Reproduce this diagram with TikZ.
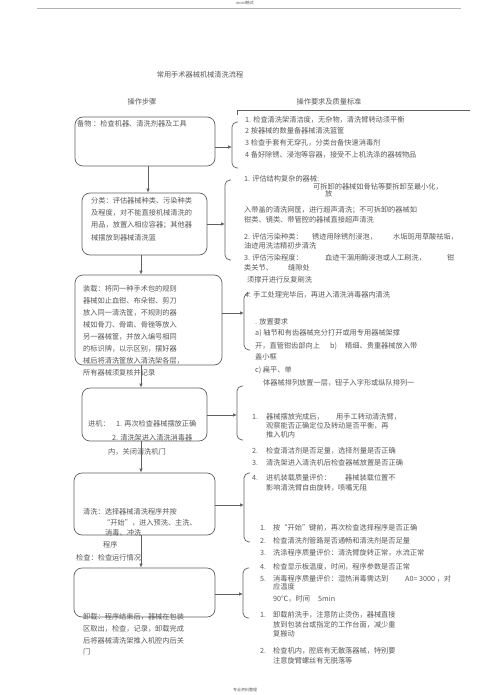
\documentclass[tikz,border=0pt]{standalone}
\usepackage{fontspec}
\setmainfont{Noto Sans CJK SC}
\usetikzlibrary{arrows.meta}
\definecolor{tx}{HTML}{585858}
\definecolor{ln}{HTML}{606060}
\newcounter{tn}
\newcommand\tl[3]{\stepcounter{tn}\node[txt] (t\thetn) at (#1,#2) {#3};}
\tikzset{
  txt/.style={anchor=west,inner sep=0pt,text=tx,font=\fontsize{7.2}{8}\selectfont},
  box/.style={draw=ln,line width=0.7pt,rounded corners=8pt,inner sep=0pt},
  arr/.style={draw=ln,line width=0.7pt,-{Latex[length=4pt,width=3.5pt]}},
  brk/.style={draw=ln,line width=0.7pt,rounded corners=5pt},
}
\begin{document}
\begin{tikzpicture}[x=1pt,y=-1pt]
\useasboundingbox (0,0) rectangle (491,695);
% header / footer
\node[inner sep=0pt,text=tx,font=\fontsize{4}{5}\selectfont] (hd) at (245,3) {word格式};
\coordinate (hl) at (37,8); \coordinate (hr) at (461,8);
\draw[gray!60,line width=0.6pt] (hl) -- (hr);
\node[inner sep=0pt,text=tx,font=\fontsize{4}{5}\selectfont] (ft) at (245,690) {专业资料整理};
% titles
\node[txt,anchor=center] (title) at (200,75) {常用手术器械机械清洗流程};
\node[txt,anchor=center] (h1) at (142,102) {操作步骤};
\node[txt,anchor=center] (h2) at (329,102) {操作要求及质量标准};
% left boxes
\node[box,minimum width=140pt,minimum height=49pt] (s1) at (145,141.5) {};
\node[box,minimum width=125pt,minimum height=62pt] (s2) at (144.5,224) {};
\node[box,minimum width=147pt,minimum height=90pt] (s3) at (148.5,320) {};
\node[box,minimum width=125pt,minimum height=53pt] (s4) at (144.5,414.5) {};
\node[box,minimum width=141pt,minimum height=62pt] (s5) at (144.5,504) {};
\node[box,minimum width=141pt,minimum height=49pt] (s6) at (144.5,592.5) {};
% vertical arrows
\coordinate (v1) at (148,0); \coordinate (v2) at (141,0);
\draw[arr] (s1.south -| v1) -- (s2.north -| v1);
\draw[arr] (s2.south -| v2) -- (s3.north -| v2);
\draw[arr] (s3.south -| v2) -- (s4.north -| v2);
\draw[arr] (s4.south -| v2) -- (s5.north -| v2);
\draw[arr] (s5.south -| v2) -- (s6.north -| v2);
% right frame (top)
\coordinate (fa) at (237,110); \coordinate (fb) at (470,110);
\draw[ln,line width=0.6pt] (237,115) -- (fa) -- (fb);
% brackets and horizontal arrows
\coordinate (b1) at (232,147);
\draw[brk] (238,122) -- (232,122) -- (232,168) -- (238,168);
\draw[arr] (s1.east |- b1) -- (b1);
\coordinate (b2) at (225,224);
\draw[brk] (231,180) -- (225,180) -- (225,260) -- (231,260);
\draw[arr] (s2.east |- b2) -- (b2);
\coordinate (b3) at (244,313);
\draw[brk] (250,293) -- (244,293) -- (244,350) -- (250,350);
\draw[arr] (s3.east |- b3) -- (b3);
\coordinate (b4) at (237,415);
\draw[brk] (243,386) -- (237,386) -- (237,440) -- (243,440);
\draw[arr] (s4.east |- b4) -- (b4);
\coordinate (b5) at (244,505);
\draw[brk] (250,473) -- (244,473) -- (244,542) -- (250,542);
\draw[arr] (s5.east |- b5) -- (b5);
\coordinate (b6) at (243,594);
\draw[brk] (249,568) -- (243,568) -- (243,618) -- (249,618);
\draw[arr] (s6.east |- b6) -- (b6);
% left texts
\tl{77}{124}{备物 ：检查机器、清洗剂器及工具}
\tl{91}{201}{分类：评估器械种类、污染种类}
\tl{91}{213}{及程度，对不能直接机械清洗的}
\tl{91}{225}{用品，放置入相应容器；其他器}
\tl{91}{238}{械摆放到器械清洗篮}
\tl{83}{289}{装载：将同一种手术包的规则}
\tl{83}{301}{器械如止血钳、布朵钳、剪刀}
\tl{83}{313}{放入同一清洗筐，不规则的器}
\tl{83}{325}{械如骨刀、骨凿、骨锉等放入}
\tl{83}{337}{另一器械筐，并放入编号相同}
\tl{83}{349}{的标识牌，以示区别，摆好器}
\tl{83}{361}{械后将清洗筐放入清洗架各层，}
\tl{83}{373}{所有器械须复核并记录}
\tl{88}{424}{进机：}
\tl{116}{424}{1. 再次检查器械摆放正确}
\tl{112}{438}{2. 清洗架进入清洗消毒器}
\tl{108}{452}{内，关闭清洗机门}
\tl{83}{512}{清洗：选择器械清洗程序并按}
\tl{103}{523}{“开始”，进入预洗、主洗、}
\tl{105}{533}{消毒、冲洗}
\tl{103}{545}{程序}
\tl{76}{558}{检查：检查运行情况}
\tl{83}{617}{卸载：程序结束后，器械在包装}
\tl{83}{629}{区取出，检查，记录，卸载完成}
\tl{83}{641}{后将器械清洗架推入机腔内后关}
\tl{83}{652}{门}
% right texts
\tl{245}{120}{1. 检查清洗架清洁度，无杂物，清洗臂转动须平衡}
\tl{245}{131}{2 按器械的数量备器械清洗篮筐}
\tl{245}{143}{3 检查手套有无穿孔，分类台备快速消毒剂}
\tl{245}{155}{4 备好除锈、浸泡等容器，接受不上机洗涤的器械物品}
\tl{244}{179}{1. 评估结构复杂的器械:}
\tl{313}{187}{可拆卸的器械如骨钻等要拆卸至最小化，}
\tl{325}{194}{放}
\tl{244}{210}{入带盖的清洗网筐，进行超声清洗；不可拆卸的器械如}
\tl{244}{220}{钳类、镜类、带管腔的器械直接超声清洗}
\tl{244}{237}{2. 评估污染种类：}
\tl{312}{237}{锈迹用除锈剂浸泡，}
\tl{393}{237}{水垢斑用草酸祛垢，}
\tl{244}{246}{油迹用洗洁精初步清洗}
\tl{244}{258}{3. 评估污染程度：}
\tl{325}{258}{血迹干涸用酶浸泡或人工刷洗，}
\tl{447}{258}{钳}
\tl{244}{268}{类关节、}
\tl{288}{268}{缝隙处}
\tl{247}{280}{须撑开进行反复刷洗}
\tl{245}{295}{4. 手工处理完毕后，再进入清洗消毒器内清洗}
\tl{255}{322}{. 放置要求}
\tl{255}{333}{a) 轴节和有齿器械充分打开或用专用器械架撑}
\tl{255}{346}{开，直管钳齿部向上}
\tl{330}{346}{b)}
\tl{345}{346}{精细、贵重器械放入带}
\tl{255}{357}{盖小框}
\tl{255}{370}{c) 扁平、单}
\tl{263}{383}{体器械排列放置一层，钮子入字形或纵队排列一}
\tl{252}{417}{1.}
\tl{266}{417}{器械摆放完成后，}
\tl{336}{417}{用手工转动清洗臂，}
\tl{266}{426}{观察能否正确定位及转动是否平衡，再}
\tl{266}{435}{推入机内}
\tl{252}{451}{2.}
\tl{266}{451}{检查清洁剂是否足量，选择剂量是否正确}
\tl{252}{463}{3.}
\tl{266}{463}{清洗架进入清洗机后检查器械放置是否正确}
\tl{252}{478}{4.}
\tl{266}{478}{进机装载质量评价：}
\tl{345}{478}{器械装载位置不}
\tl{266}{488}{影响清洗臂自由旋转，喷嘴无阻}
\tl{260}{528}{1.}
\tl{273}{528}{按“开始”键前，再次检查选择程序是否正确}
\tl{260}{541}{2.}
\tl{273}{541}{检查清洗剂管路是否通畅和清洗剂是否足量}
\tl{260}{553}{3.}
\tl{273}{553}{洗涤程序质量评价：清洗臂旋转正常，水流正常}
\tl{260}{567}{4.}
\tl{273}{567}{检查显示板温度，时间，程序参数是否正常}
\tl{260}{579}{5.}
\tl{273}{579}{消毒程序质量评价：湿热消毒需达到}
\tl{405}{579}{A0= 3000 ，对}
\tl{273}{587}{应温度}
\tl{273}{599}{90℃，时间}
\tl{318}{599}{5min}
\tl{260}{615}{1.}
\tl{273}{615}{卸载前洗手，注意防止烫伤，器械直接}
\tl{273}{625}{放到包装台或指定的工作台面，减少重}
\tl{273}{634}{复搬动}
\tl{260}{651}{2.}
\tl{273}{651}{检查机内，腔底有无散落器械，特别要}
\tl{273}{661}{注意旋臂螺丝有无脱落等}
\end{tikzpicture}
\end{document}
